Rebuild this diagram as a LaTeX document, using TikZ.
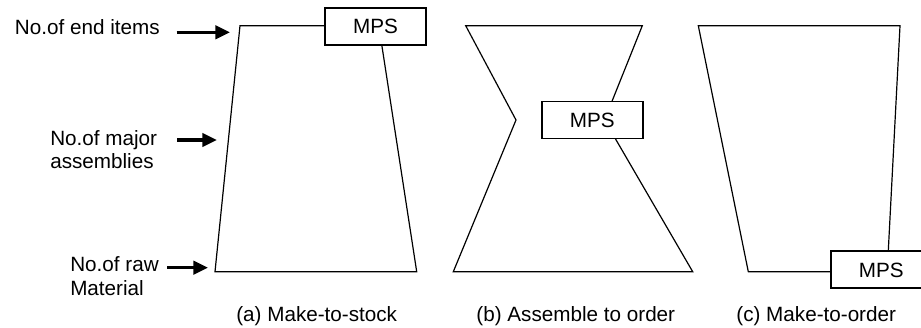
\documentclass[tikz,border=0pt]{standalone}
\usepackage{fontspec}
\setmainfont{Liberation Sans}
\usetikzlibrary{arrows.meta, calc, positioning}
\tikzset{
  outline/.style  = {draw, line width=0.9pt, line join=miter},
  mpsbox/.style   = {draw, line width=1.4pt, fill=white, minimum width=101*0.75pt,
                     minimum height=37*0.75pt, inner sep=0pt},
  feed/.style     = {-{Triangle[length=11pt, width=10pt]}, line width=2.4pt},
  lbl/.style      = {inner sep=0pt, font=\fontsize{15.5}{17.5}\selectfont},
  caption/.style  = {lbl, anchor=base},
}

\begin{document}
\begin{tikzpicture}[x=0.75pt, y=-0.75pt]
  \useasboundingbox (0,0) rectangle (921,328);

  % (a) make-to-stock
  \coordinate (aTL) at (240,25.7);
  \coordinate (aTR) at (378.8,25.7);
  \coordinate (aBR) at (416.7,271.7);
  \coordinate (aBL) at (215,271.7);
  \draw[outline] (aTL) -- (aTR) -- (aBR) -- (aBL) -- cycle;
  \node[mpsbox, lbl] (mpsA) at (375.5,26.2) {MPS};
  \node[caption] (capA) at (316.7,321.7) {(a) Make-to-stock};

  % levels on the left
  \node[lbl, anchor=base east] (lEnd) at (160,34.3) {No.of end items};
  \node[lbl, anchor=north west, align=left] (lMajor) at (50,130) {No.of major\\assemblies};
  \node[lbl, anchor=north west, align=left] (lRaw) at (70,256.7) {No.of raw\\Material};
  \coordinate (tEnd) at (230,32.3);
  \coordinate (tMajor) at (217,140);
  \coordinate (tRaw) at (208,267.7);
  \draw[feed] ($(lEnd.east |- tEnd)+(16.7,0)$) -- (tEnd);
  \draw[feed] (177,140) -- (tMajor);
  \draw[feed] (167,267.7) -- (tRaw);

  % (b) assemble to order
  \draw[outline] (465.7,25.7) -- (642.3,25.7) -- (604.5,120) -- (692.7,271.7)
    -- (453.3,271.7) -- (516,120) -- cycle;
  \node[mpsbox, lbl] (mpsB) at (592.2,120) {MPS};
  \node[caption] (capB) at (575.8,321.7) {(b) Assemble to order};

  % (c) make-to-order
  \draw[outline] (698.3,25.7) -- (900,25.7) -- (887.2,271.7) -- (748.3,271.7) -- cycle;
  \node[mpsbox, lbl] (mpsC) at (881.2,269.9) {MPS};
  \node[caption] (capC) at (816.2,321.7) {(c) Make-to-order};
\end{tikzpicture}
\end{document}
